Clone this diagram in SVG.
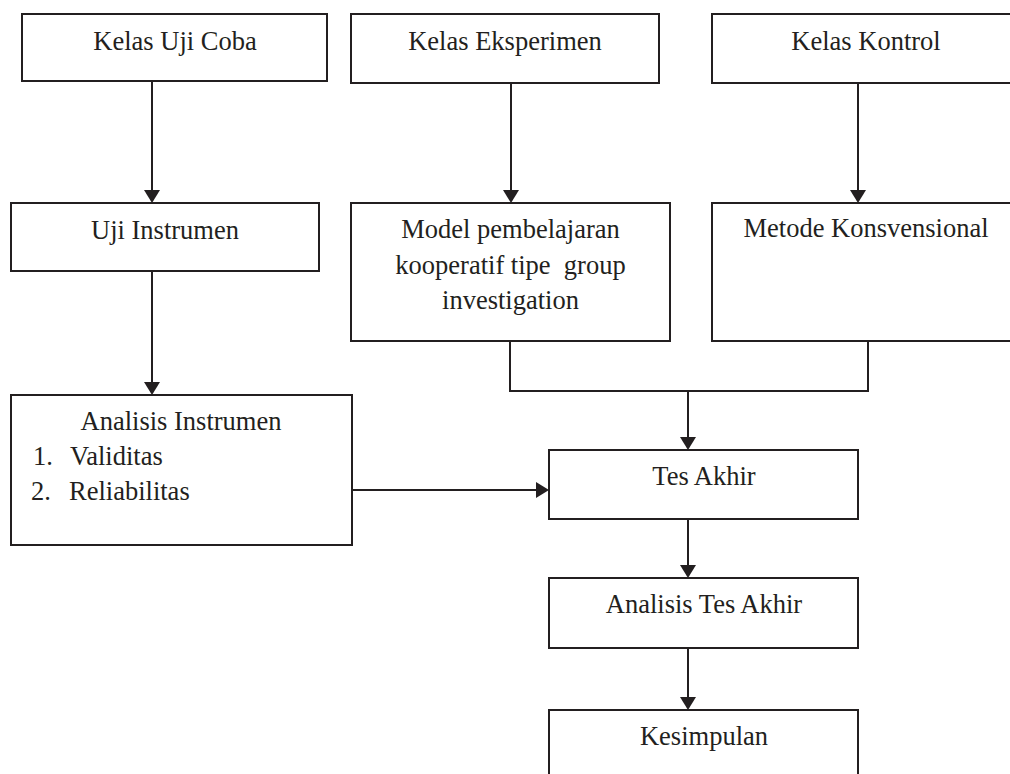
<svg xmlns="http://www.w3.org/2000/svg" width="1010" height="774" viewBox="0 0 1010 774">
  <style>
    .box { fill: #ffffff; stroke: #231f20; stroke-width: 2; }
    .conn { fill: none; stroke: #231f20; stroke-width: 2; }
    text { font-family: "Liberation Serif", "Times New Roman", serif; font-size: 26.5px; fill: #231f20; }
    .c { text-anchor: middle; }
  </style>
  <defs>
    <marker id="arrow" markerUnits="userSpaceOnUse" markerWidth="14" markerHeight="16" refX="9" refY="8" orient="auto">
      <path d="M0,0 L13,8 L0,16 z" fill="#231f20"/>
    </marker>
  </defs>
  <rect width="1010" height="774" fill="#ffffff"/>

  <g id="connectors">
    <line class="conn" x1="152" y1="81" x2="152" y2="199" marker-end="url(#arrow)"/>
    <line class="conn" x1="511" y1="83" x2="511" y2="199" marker-end="url(#arrow)"/>
    <line class="conn" x1="858" y1="83" x2="858" y2="199" marker-end="url(#arrow)"/>
    <line class="conn" x1="152" y1="271" x2="152" y2="391" marker-end="url(#arrow)"/>
    <polyline class="conn" points="510,341 510,391 868,391 868,341"/>
    <line class="conn" x1="688" y1="391" x2="688" y2="446" marker-end="url(#arrow)"/>
    <line class="conn" x1="352" y1="490" x2="545" y2="490" marker-end="url(#arrow)"/>
    <line class="conn" x1="688" y1="519" x2="688" y2="574" marker-end="url(#arrow)"/>
    <line class="conn" x1="688" y1="648" x2="688" y2="706" marker-end="url(#arrow)"/>
  </g>

  <g id="kelas-uji-coba">
    <rect class="box" x="22" y="14" width="305" height="67"/>
    <text class="c" x="175" y="50">Kelas Uji Coba</text>
  </g>
  <g id="kelas-eksperimen">
    <rect class="box" x="351" y="14" width="308" height="69"/>
    <text class="c" x="505" y="50">Kelas Eksperimen</text>
  </g>
  <g id="kelas-kontrol">
    <rect class="box" x="712" y="14" width="310" height="69"/>
    <text class="c" x="866" y="50">Kelas Kontrol</text>
  </g>
  <g id="uji-instrumen">
    <rect class="box" x="11" y="203" width="308" height="68"/>
    <text class="c" x="165" y="239">Uji Instrumen</text>
  </g>
  <g id="model-pembelajaran">
    <rect class="box" x="351" y="203" width="319" height="138"/>
    <text class="c" x="510.5" y="238">Model pembelajaran</text>
    <text class="c" x="510.5" y="274" xml:space="preserve">kooperatif tipe  group</text>
    <text class="c" x="510.5" y="309">investigation</text>
  </g>
  <g id="metode-konvensional">
    <rect class="box" x="712" y="203" width="310" height="138"/>
    <text class="c" x="866" y="237">Metode Konsvensional</text>
  </g>
  <g id="analisis-instrumen">
    <rect class="box" x="11" y="395" width="341" height="150"/>
    <text class="c" x="181" y="430">Analisis Instrumen</text>
    <text x="33" y="465">1.</text>
    <text x="70" y="465">Validitas</text>
    <text x="31" y="500">2.</text>
    <text x="69" y="500">Reliabilitas</text>
  </g>
  <g id="tes-akhir">
    <rect class="box" x="549" y="450" width="309" height="69"/>
    <text class="c" x="704" y="485">Tes Akhir</text>
  </g>
  <g id="analisis-tes-akhir">
    <rect class="box" x="549" y="578" width="309" height="70"/>
    <text class="c" x="704" y="613">Analisis Tes Akhir</text>
  </g>
  <g id="kesimpulan">
    <rect class="box" x="549" y="710" width="309" height="80"/>
    <text class="c" x="704" y="745">Kesimpulan</text>
  </g>
</svg>
